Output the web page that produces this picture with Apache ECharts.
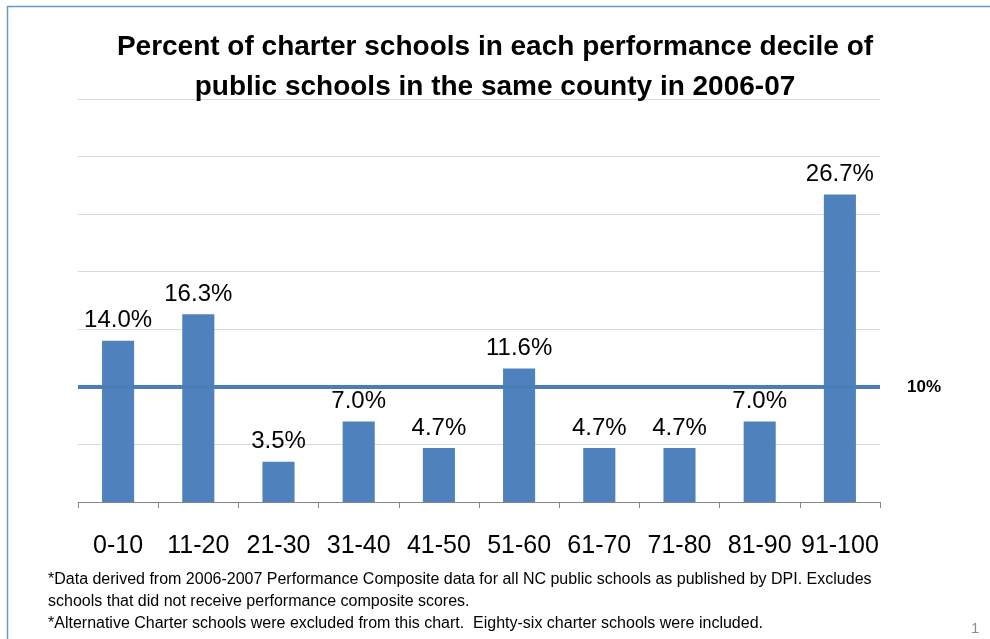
<!DOCTYPE html>
<html>
<head>
<meta charset="utf-8">
<script src="https://cdn.jsdelivr.net/npm/echarts@6/dist/echarts.min.js"></script>
<style>
  html, body { margin: 0; padding: 0; background: #fff; }
  #chart { width: 990px; height: 639px; }
</style>
</head>
<body>
<div id="chart"></div>
<script>
// categories and values
const deciles = ['0-10', '11-20', '21-30', '31-40', '41-50', '51-60', '61-70', '71-80', '81-90', '91-100'];
const percentCharter = [14.0, 16.3, 3.5, 7.0, 4.7, 11.6, 4.7, 4.7, 7.0, 26.7];
const referenceLevel = 10;
const titleLines = [
  'Percent of charter schools in each performance decile of',
  'public schools in the same county in 2006-07'
];
const footnotes = [
  '*Data derived from 2006-2007 Performance Composite data for all NC public schools as published by DPI. Excludes',
  'schools that did not receive performance composite scores.',
  '*Alternative Charter schools were excluded from this chart.  Eighty-six charter schools were included.'
];

const chart = echarts.init(document.getElementById('chart'));
const font = 'Liberation Sans, Arial, sans-serif';
const barBlue = '#4f81bd';

chart.setOption({
  animation: false,
  textStyle: { fontFamily: font },
  title: {
    text: titleLines.join('\n'),
    left: 'center',
    top: 22,
    textStyle: { fontSize: 28, fontWeight: 'bold', color: '#000', lineHeight: 40, fontFamily: font }
  },
  grid: { left: 78, right: 110, top: 99, bottom: 137 },
  xAxis: {
    type: 'category',
    data: deciles,
    axisLine: { lineStyle: { color: '#868686', width: 1 } },
    axisTick: { show: true, length: 6, lineStyle: { color: '#868686' } },
    axisLabel: { interval: 0, fontSize: 25, color: '#000', margin: 32, fontFamily: font }
  },
  yAxis: {
    type: 'value',
    min: 0,
    max: 35,
    interval: 5,
    axisLabel: { show: false },
    axisLine: { show: false },
    axisTick: { show: false },
    splitLine: { lineStyle: { color: '#d9d9d9', width: 1 } }
  },
  series: [{
    type: 'bar',
    data: percentCharter,
    barWidth: '40%',
    itemStyle: { color: barBlue },
    label: {
      show: true,
      position: 'top',
      distance: 8,
      fontSize: 24,
      color: '#000',
      formatter: p => p.value.toFixed(1) + '%'
    },
    markLine: {
      silent: true,
      symbol: ['none', 'none'],
      lineStyle: { color: '#4a7ebb', width: 4, type: 'solid' },
      label: {
        show: true,
        position: 'end',
        distance: 27,
        formatter: referenceLevel + '%',
        fontSize: 17,
        fontWeight: 'bold',
        color: '#000'
      },
      data: [{ yAxis: referenceLevel }]
    }
  }],
  graphic: [
    {
      type: 'polyline',
      shape: { points: [[7.5, 639], [7.5, 6.5], [990, 6.5]] },
      style: { stroke: '#6a96cc', lineWidth: 1.5, fill: null }
    },
    {
      type: 'text',
      left: 48,
      top: 569,
      style: {
        text: footnotes.join('\n'),
        font: '16px ' + font,
        lineHeight: 22,
        fill: '#000'
      }
    },
    {
      type: 'text',
      left: 971,
      top: 621,
      style: { text: '1', font: '15px ' + font, fill: '#8c8c8c' }
    }
  ]
});
</script>
</body>
</html>
